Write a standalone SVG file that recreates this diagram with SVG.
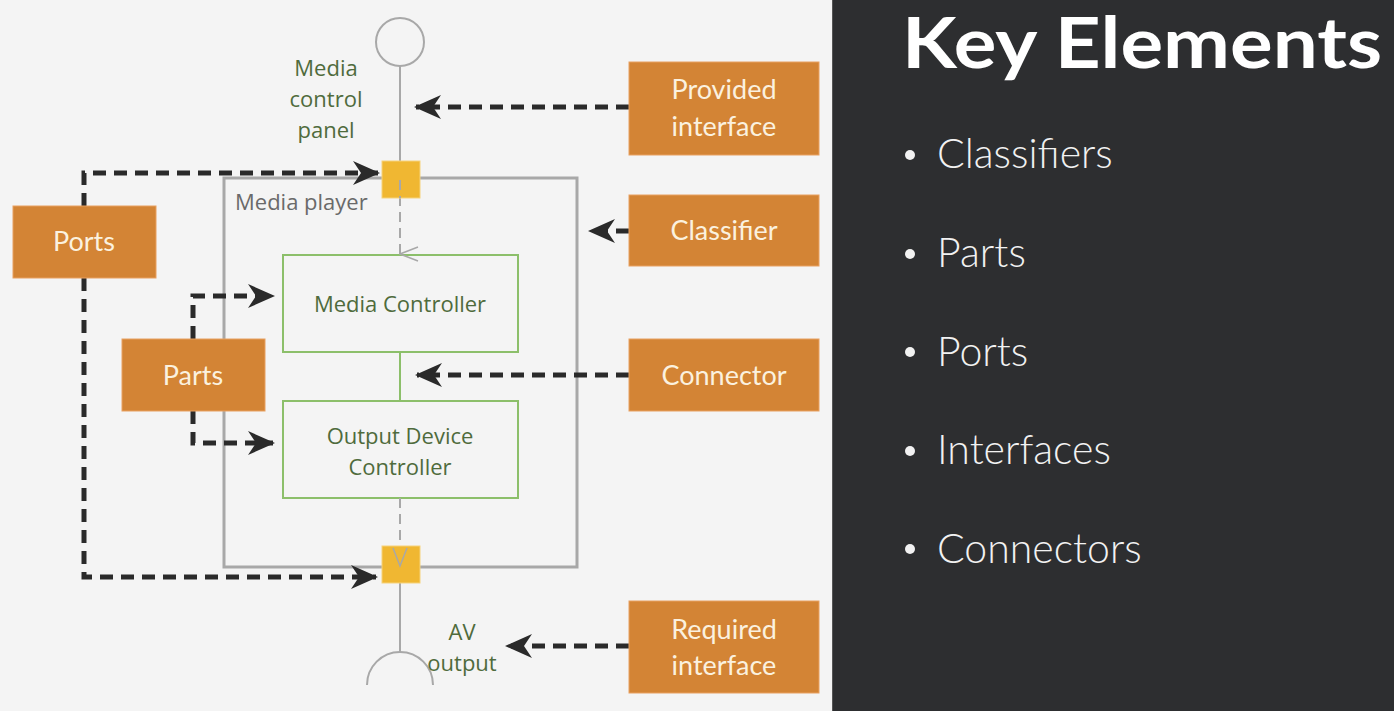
<svg xmlns="http://www.w3.org/2000/svg" width="1394" height="711" viewBox="0 0 1394 711">
<defs>
<style>
.bg{fill:#f4f4f4}
.panel{fill:#2d2e30}
.call{fill:#d38435;stroke:#e8a060;stroke-width:1}
.calltxt{font-family:Lato,"Open Sans",sans-serif;font-size:27px;fill:#fbf1df;text-anchor:middle}
.part{fill:none;stroke:#8cbf6a;stroke-width:2}
.green{font-family:"Open Sans","Noto Sans",sans-serif;font-size:22px;fill:#4f6b3c;text-anchor:middle}
.gray{stroke:#a8a8a8;fill:none}
.port{fill:#f0b732;stroke:#f6d27a;stroke-width:1}
.dash{stroke:#2a2a2a;stroke-width:5;fill:none;stroke-dasharray:13 8}
.bullet{font-family:Lato,"Open Sans",sans-serif;font-size:41px;font-weight:300;fill:#f2f2f2}
</style>
<marker id="ah" markerUnits="userSpaceOnUse" markerWidth="28" markerHeight="28" viewBox="0 0 28 28" refX="25" refY="14" orient="auto">
<path d="M0,2 L27,14 L0,26 L8,14 z" fill="#2a2a2a"/>
</marker>
<marker id="oa" markerUnits="userSpaceOnUse" markerWidth="20" markerHeight="20" viewBox="0 0 20 20" refX="10" refY="19" orient="auto-start-reverse">
<path d="M3,1 L10,19 L17,1" fill="none" stroke="#a8a8a8" stroke-width="1.5"/>
</marker>
</defs>
<rect class="bg" x="0" y="0" width="832" height="711"/>
<rect class="panel" x="832" y="0" width="562" height="711"/>
<line x1="832.5" y1="0" x2="832.5" y2="711" stroke="#555" stroke-width="1"/>

<g id="classifier-media-player">
<rect class="gray" x="224" y="178" width="353" height="389" stroke-width="3"/>
<text x="235" y="210" font-family="'Open Sans','Noto Sans',sans-serif" font-size="22" fill="#6a6a6a">Media player</text>
</g>

<g id="provided-interface-symbol">
<circle class="gray" cx="400" cy="42" r="24" stroke-width="2"/>
<text class="green"><tspan x="326" y="76">Media</tspan><tspan x="326" y="107">control</tspan><tspan x="326" y="138">panel</tspan></text>
</g>

<g id="required-interface-symbol">
<path class="gray" d="M367,685 A33,33 0 0 1 433,685" stroke-width="2"/>
<text class="green"><tspan x="462" y="640">AV</tspan><tspan x="462" y="671">output</tspan></text>
</g>

<g id="part-media-controller">
<rect class="part" x="283" y="255" width="235" height="97"/>
<text class="green" x="400" y="312">Media Controller</text>
</g>

<g id="part-output-device-controller">
<rect class="part" x="283" y="401" width="235" height="97"/>
<text class="green"><tspan x="400" y="444">Output Device</tspan><tspan x="400" y="475">Controller</tspan></text>
</g>

<g id="connectors">
<line class="gray" x1="400" y1="66" x2="400" y2="162" stroke-width="2"/>
<line class="gray" x1="400" y1="582" x2="400" y2="652" stroke-width="2"/>
<line x1="400" y1="352" x2="400" y2="401" stroke="#8cbf6a" stroke-width="2"/>
<line class="gray" x1="400" y1="180" x2="400" y2="254" stroke-width="2" stroke-dasharray="10 6" marker-end="url(#oa)"/>
<line class="gray" x1="400" y1="498" x2="400" y2="566" stroke-width="2" stroke-dasharray="10 6" marker-end="url(#oa)"/>
</g>

<g id="port-top"><rect class="port" x="382" y="161" width="38" height="37"/>
<line x1="400" y1="180" x2="400" y2="198" stroke="#a8a8a8" stroke-width="2" stroke-dasharray="10 6"/></g>
<g id="port-bottom"><rect class="port" x="382" y="546" width="38" height="37"/>
<path d="M393,548 L400,566 L407,548" fill="none" stroke="#a8a8a8" stroke-width="1.5"/></g>

<g id="callout-connectors">
<path class="dash" d="M629,107 L416,107" marker-end="url(#ah)"/>
<path class="dash" d="M629,231 L590,231" marker-end="url(#ah)"/>
<path class="dash" d="M629,375 L417,375" marker-end="url(#ah)"/>
<path class="dash" d="M629,646 L507,646" marker-end="url(#ah)"/>
<path class="dash" d="M84,206 L84,173 L378,173" marker-end="url(#ah)"/>
<path class="dash" d="M84,278 L84,577 L376,577" marker-end="url(#ah)"/>
<path class="dash" d="M193,339 L193,296 L273,296" marker-end="url(#ah)"/>
<path class="dash" d="M193,411 L193,443 L273,443" marker-end="url(#ah)"/>
</g>

<g id="callout-provided-interface">
<rect class="call" x="629" y="62" width="190" height="93"/>
<text class="calltxt"><tspan x="724" y="99">Provided</tspan><tspan x="724" y="136">interface</tspan></text>
</g>
<g id="callout-classifier">
<rect class="call" x="629" y="195" width="190" height="71"/>
<text class="calltxt" x="724" y="240">Classifier</text>
</g>
<g id="callout-connector">
<rect class="call" x="629" y="339" width="190" height="72"/>
<text class="calltxt" x="724" y="385">Connector</text>
</g>
<g id="callout-required-interface">
<rect class="call" x="629" y="601" width="190" height="92"/>
<text class="calltxt"><tspan x="724" y="639">Required</tspan><tspan x="724" y="675">interface</tspan></text>
</g>
<g id="callout-ports">
<rect class="call" x="13" y="206" width="143" height="72"/>
<text class="calltxt" x="84" y="251">Ports</text>
</g>
<g id="callout-parts">
<rect class="call" x="122" y="339" width="143" height="72"/>
<text class="calltxt" x="193" y="385">Parts</text>
</g>

<g id="key-elements">
<text x="902" y="68" font-family="Lato,'Open Sans',sans-serif" font-size="70" font-weight="700" fill="#ffffff" textLength="480" lengthAdjust="spacingAndGlyphs">Key Elements</text>
<g fill="#f2f2f2">
<circle cx="910" cy="155" r="5"/><circle cx="910" cy="254" r="5"/><circle cx="910" cy="352" r="5"/><circle cx="910" cy="451" r="5"/><circle cx="910" cy="549" r="5"/>
</g>
<text class="bullet" x="937" y="168">Classifiers</text>
<text class="bullet" x="937" y="267">Parts</text>
<text class="bullet" x="937" y="366">Ports</text>
<text class="bullet" x="937" y="464">Interfaces</text>
<text class="bullet" x="937" y="563">Connectors</text>
</g>
</svg>
